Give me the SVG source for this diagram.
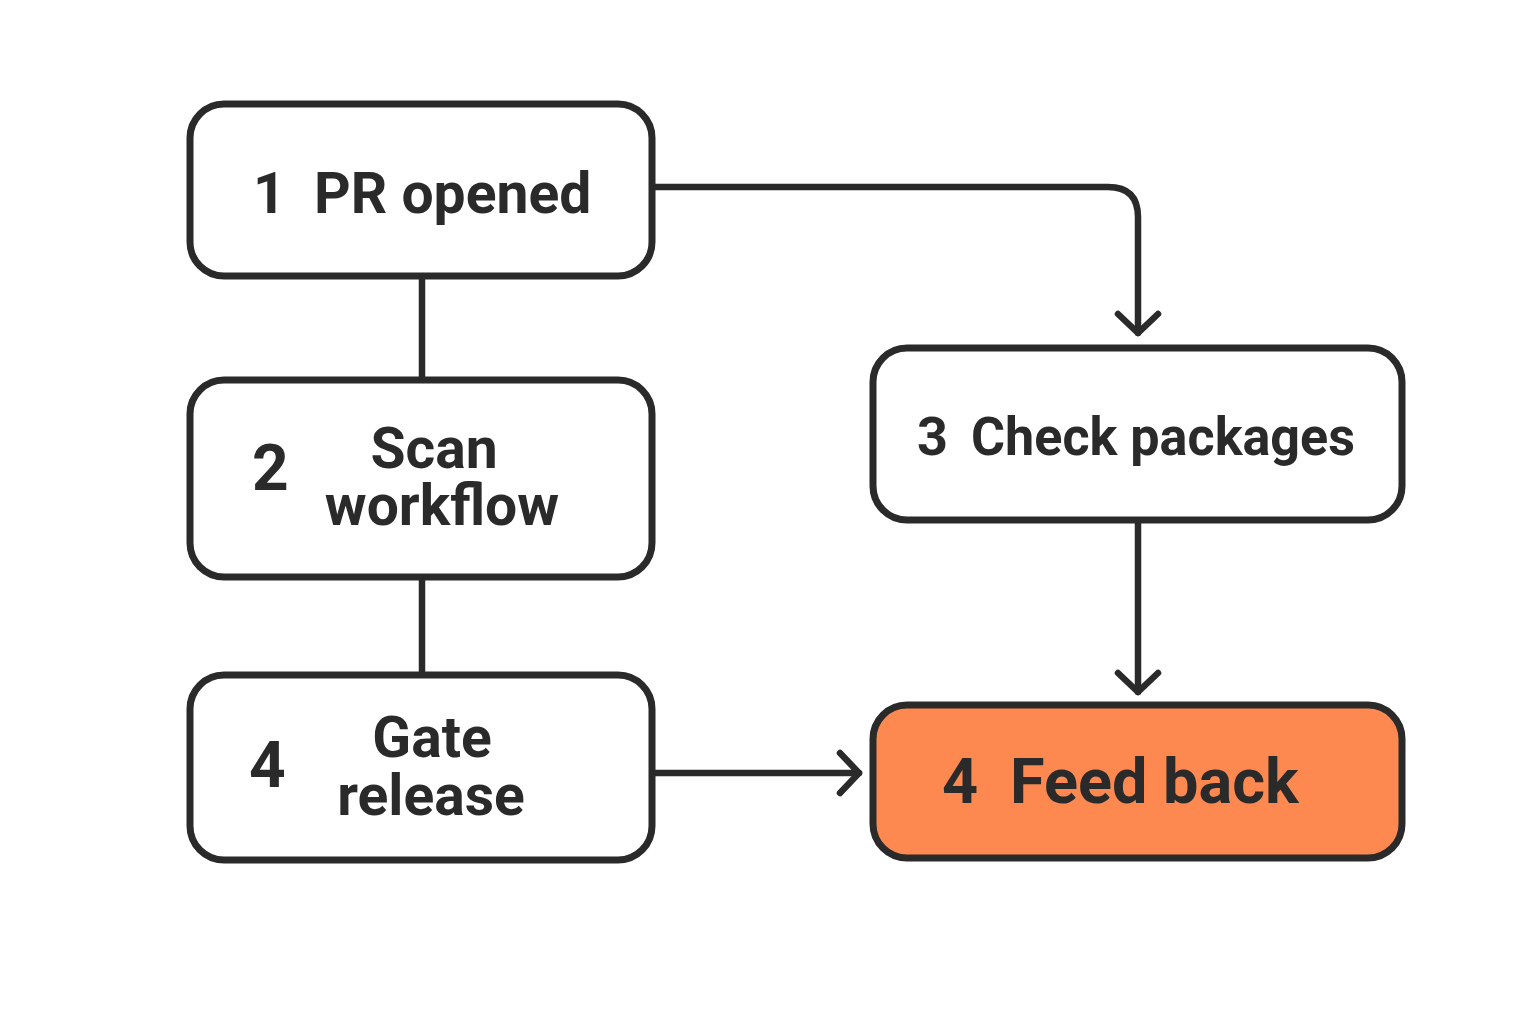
<svg xmlns="http://www.w3.org/2000/svg" width="1536" height="1024" viewBox="0 0 1536 1024">
<style>
.box{fill:#fff;stroke:#2a2a2a;stroke-width:7}
.hot{fill:#FD8950}
.t{font-family:Roboto,"Liberation Sans",sans-serif;font-weight:700;fill:#2a2a2a}
.c{fill:none;stroke:#2a2a2a;stroke-width:6.5;stroke-linecap:round;stroke-linejoin:round}
</style>
<defs>
<marker id="ah" viewBox="0 0 34 50" refX="26" refY="25" markerWidth="34" markerHeight="50" markerUnits="userSpaceOnUse" orient="auto">
<path d="M7 5 L26 25 L7 45" fill="none" stroke="#2a2a2a" stroke-width="6.5" stroke-linecap="round" stroke-linejoin="round"/>
</marker>
</defs>
<rect width="1536" height="1024" fill="#fff"/>
<g id="connectors">
<path class="c" d="M422 276 V380"/>
<path class="c" d="M422 577 V675"/>
<path class="c" d="M652 187 H1108 Q1138 187 1138 217 V333" marker-end="url(#ah)"/>
<path class="c" d="M1138 520 V692" marker-end="url(#ah)"/>
<path class="c" d="M652 773 H859" marker-end="url(#ah)"/>
</g>
<g id="n1">
<rect class="box" x="190" y="104" width="462" height="172" rx="34"/>
<text class="t" x="253" y="213" font-size="57">1</text>
<text class="t" x="314" y="213" font-size="57">PR opened</text>
</g>
<g id="n2">
<rect class="box" x="190" y="380" width="462" height="197" rx="34"/>
<text class="t" x="252" y="490" font-size="64">2</text>
<text class="t" x="434" y="468" font-size="57" text-anchor="middle">Scan</text>
<text class="t" x="442" y="525" font-size="57" text-anchor="middle">workflow</text>
</g>
<g id="n4a">
<rect class="box" x="190" y="675" width="462" height="185" rx="34"/>
<text class="t" x="249" y="787" font-size="64">4</text>
<text class="t" x="432" y="757" font-size="57" text-anchor="middle">Gate</text>
<text class="t" x="431" y="815" font-size="57" text-anchor="middle">release</text>
</g>
<g id="n3">
<rect class="box" x="873" y="348" width="529" height="172" rx="34"/>
<text class="t" x="917" y="455" font-size="54">3</text>
<text class="t" x="971" y="455" font-size="54" textLength="384" lengthAdjust="spacingAndGlyphs">Check packages</text>
</g>
<g id="n4b">
<rect class="box hot" x="873" y="705" width="529" height="153" rx="34"/>
<text class="t" x="942" y="803" font-size="63">4</text>
<text class="t" x="1010" y="803" font-size="63">Feed back</text>
</g>
</svg>
